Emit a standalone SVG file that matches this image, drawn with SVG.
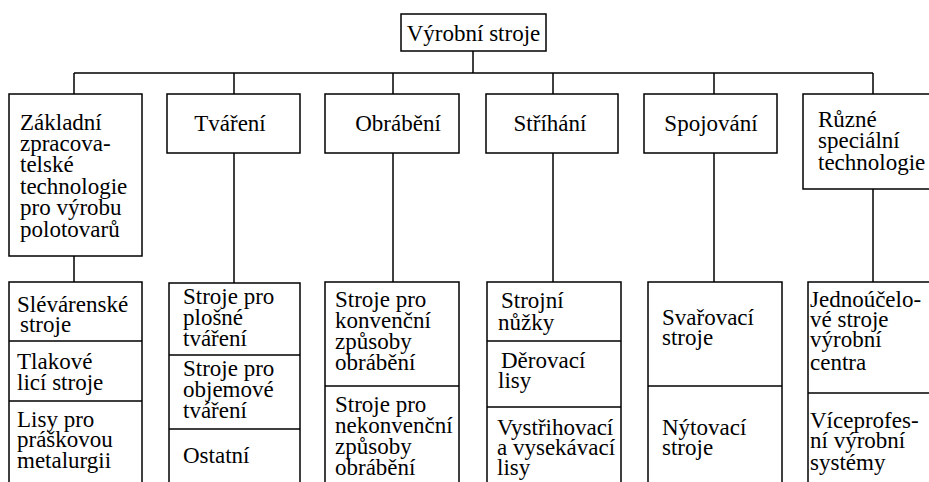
<svg xmlns="http://www.w3.org/2000/svg" width="929" height="482" viewBox="0 0 929 482">
<style>
.box{fill:#fff;stroke:#000;stroke-width:1.5}
.ln{stroke:#000;stroke-width:1.5;fill:none}
.m{text-anchor:middle}
</style>
<rect width="929" height="482" fill="#fff"/>
<g id="connectors" class="ln">
<path d="M473 51V73M74 73H873M74 73V94M234 73V94M393 73V94M553 73V94M714 73V94M873 73V94"/>
<path d="M74 256V282M234 153V283M393 153V282M553 153V282M714 153V282M873 189V282"/>
</g>
<g font-family="Liberation Serif, Tinos, Times New Roman, Noto Serif, DejaVu Serif, FreeSerif, serif" font-size="23" fill="#000">
<g id="root">
<rect class="box" x="401" y="14" width="145" height="37"/>
<text class="m" x="473.5" y="41">Výrobní stroje</text>
</g>
<g id="n1">
<rect class="box" x="9" y="94" width="133" height="162"/>
<text x="20" y="130">Základní</text>
<text x="20" y="151">zpracova-</text>
<text x="20" y="172">telské</text>
<text x="20" y="194">technologie</text>
<text x="20" y="215">pro výrobu</text>
<text x="20" y="237">polotovarů</text>
</g>
<g id="n2">
<rect class="box" x="167" y="94" width="133" height="59"/>
<text x="230" y="131" class="m">Tváření</text>
</g>
<g id="n3">
<rect class="box" x="325" y="94" width="134" height="59"/>
<text x="398" y="131" class="m">Obrábění</text>
</g>
<g id="n4">
<rect class="box" x="486" y="94" width="132" height="59"/>
<text x="550" y="131" class="m">Stříhání</text>
</g>
<g id="n5">
<rect class="box" x="644" y="94" width="133" height="59"/>
<text x="711" y="131" class="m">Spojování</text>
</g>
<g id="n6">
<rect class="box" x="803" y="94" width="140" height="95"/>
<text x="818" y="127">Různé</text>
<text x="818" y="148">speciální</text>
<text x="818" y="170">technologie</text>
</g>
<g id="c1">
<rect class="box" x="9" y="282" width="133" height="220"/>
<path class="ln" d="M9 341H142M9 401H142"/>
<text x="17" y="312">Slévárenské</text>
<text x="20" y="332">stroje</text>
<text x="17" y="369">Tlakové</text>
<text x="17" y="390">licí stroje</text>
<text x="17" y="427">Lisy pro</text>
<text x="17" y="447">práškovou</text>
<text x="17" y="468">metalurgii</text>
</g>
<g id="c2">
<rect class="box" x="169" y="283" width="131" height="220"/>
<path class="ln" d="M169 355H300M169 429H300"/>
<text x="183" y="304">Stroje pro</text>
<text x="183" y="325">plošné</text>
<text x="183" y="346">tváření</text>
<text x="183" y="376">Stroje pro</text>
<text x="183" y="397">objemové</text>
<text x="183" y="418">tváření</text>
<text x="183" y="463">Ostatní</text>
</g>
<g id="c3">
<rect class="box" x="325" y="282" width="134" height="220"/>
<path class="ln" d="M325 386H459"/>
<text x="335" y="307">Stroje pro</text>
<text x="335" y="328">konvenční</text>
<text x="335" y="349">způsoby</text>
<text x="335" y="370">obrábění</text>
<text x="335" y="412">Stroje pro</text>
<text x="335" y="433">nekonvenční</text>
<text x="335" y="454">způsoby</text>
<text x="335" y="475">obrábění</text>
</g>
<g id="c4">
<rect class="box" x="487" y="282" width="134" height="220"/>
<path class="ln" d="M487 341H621M487 407H621"/>
<text x="501" y="308">Strojní</text>
<text x="498" y="330">nůžky</text>
<text x="501" y="368">Děrovací</text>
<text x="498" y="388">lisy</text>
<text x="497" y="435">Vystřihovací</text>
<text x="497" y="455">a vysekávací</text>
<text x="497" y="475">lisy</text>
</g>
<g id="c5">
<rect class="box" x="648" y="282" width="134" height="220"/>
<path class="ln" d="M648 386H782"/>
<text x="662" y="325">Svařovací</text>
<text x="662" y="345">stroje</text>
<text x="662" y="435">Nýtovací</text>
<text x="662" y="455">stroje</text>
</g>
<g id="c6">
<rect class="box" x="808" y="282" width="140" height="220"/>
<path class="ln" d="M808 393H948"/>
<text x="810" y="307">Jednoúčelo-</text>
<text x="810" y="327">vé stroje</text>
<text x="810" y="347">výrobní</text>
<text x="810" y="370">centra</text>
<text x="810" y="428">Víceprofes-</text>
<text x="810" y="448">ní výrobní</text>
<text x="810" y="470">systémy</text>
</g>
</g>
</svg>
